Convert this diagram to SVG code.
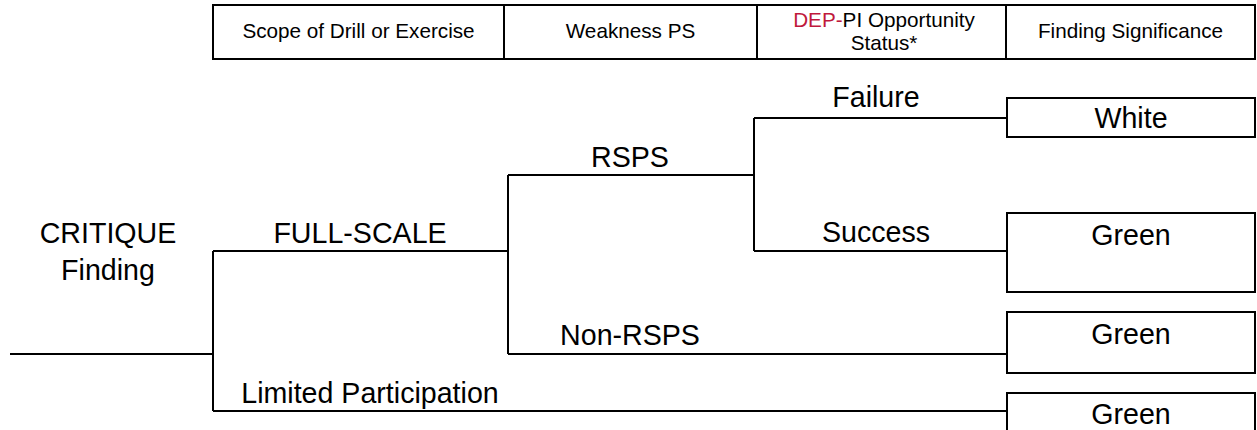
<svg xmlns="http://www.w3.org/2000/svg" width="1257" height="430" viewBox="0 0 1257 430">
<style>
  .ln{stroke:#000;stroke-width:2;fill:none}
  .bx{stroke:#000;stroke-width:2;fill:#fff}
  .h{font-family:"Liberation Sans",Arial,sans-serif;font-size:20.7px;fill:#000;text-anchor:middle}
  .t{font-family:"Liberation Sans",Arial,sans-serif;font-size:28.6px;fill:#000;text-anchor:middle}
  .red{fill:#C0183C}
</style>
<rect width="1257" height="430" fill="#fff"/>
<g id="header">
  <rect class="bx" x="213" y="5" width="1042" height="54"/>
  <line class="ln" x1="504" y1="5" x2="504" y2="59"/>
  <line class="ln" x1="757" y1="5" x2="757" y2="59"/>
  <line class="ln" x1="1006" y1="5" x2="1006" y2="59"/>
  <text class="h" x="358.5" y="38">Scope of Drill or Exercise</text>
  <text class="h" x="630.5" y="38">Weakness PS</text>
  <text class="h" x="884" y="26.5"><tspan class="red">DEP-</tspan>PI Opportunity</text>
  <text class="h" x="884" y="50">Status*</text>
  <text class="h" x="1130.5" y="38">Finding Significance</text>
</g>
<g id="connectors">
  <polyline class="ln" points="10,354 213,354"/>
  <polyline class="ln" points="213,251 213,411"/>
  <polyline class="ln" points="213,251 508,251"/>
  <polyline class="ln" points="213,411 1007,411"/>
  <polyline class="ln" points="508,175 508,354"/>
  <polyline class="ln" points="508,175 754,175"/>
  <polyline class="ln" points="508,354 1007,354"/>
  <polyline class="ln" points="754,118 754,251"/>
  <polyline class="ln" points="754,118 1007,118"/>
  <polyline class="ln" points="754,251 1007,251"/>
</g>
<g id="labels">
  <text class="t" x="108" y="243">CRITIQUE</text>
  <text class="t" x="108" y="280">Finding</text>
  <text class="t" x="360" y="243">FULL-SCALE</text>
  <text class="t" x="630" y="167">RSPS</text>
  <text class="t" x="630" y="345">Non-RSPS</text>
  <text class="t" x="876" y="107">Failure</text>
  <text class="t" x="876" y="242">Success</text>
  <text class="t" x="370" y="403">Limited Participation</text>
</g>
<g id="node-white">
  <rect class="bx" x="1007" y="98" width="248" height="39"/>
  <text class="t" x="1131" y="128">White</text>
</g>
<g id="node-green1">
  <rect class="bx" x="1007" y="213" width="248" height="79"/>
  <text class="t" x="1131" y="245">Green</text>
</g>
<g id="node-green2">
  <rect class="bx" x="1007" y="312" width="248" height="61"/>
  <text class="t" x="1131" y="344">Green</text>
</g>
<g id="node-green3">
  <rect class="bx" x="1007" y="393" width="248" height="50"/>
  <text class="t" x="1131" y="424">Green</text>
</g>
</svg>
